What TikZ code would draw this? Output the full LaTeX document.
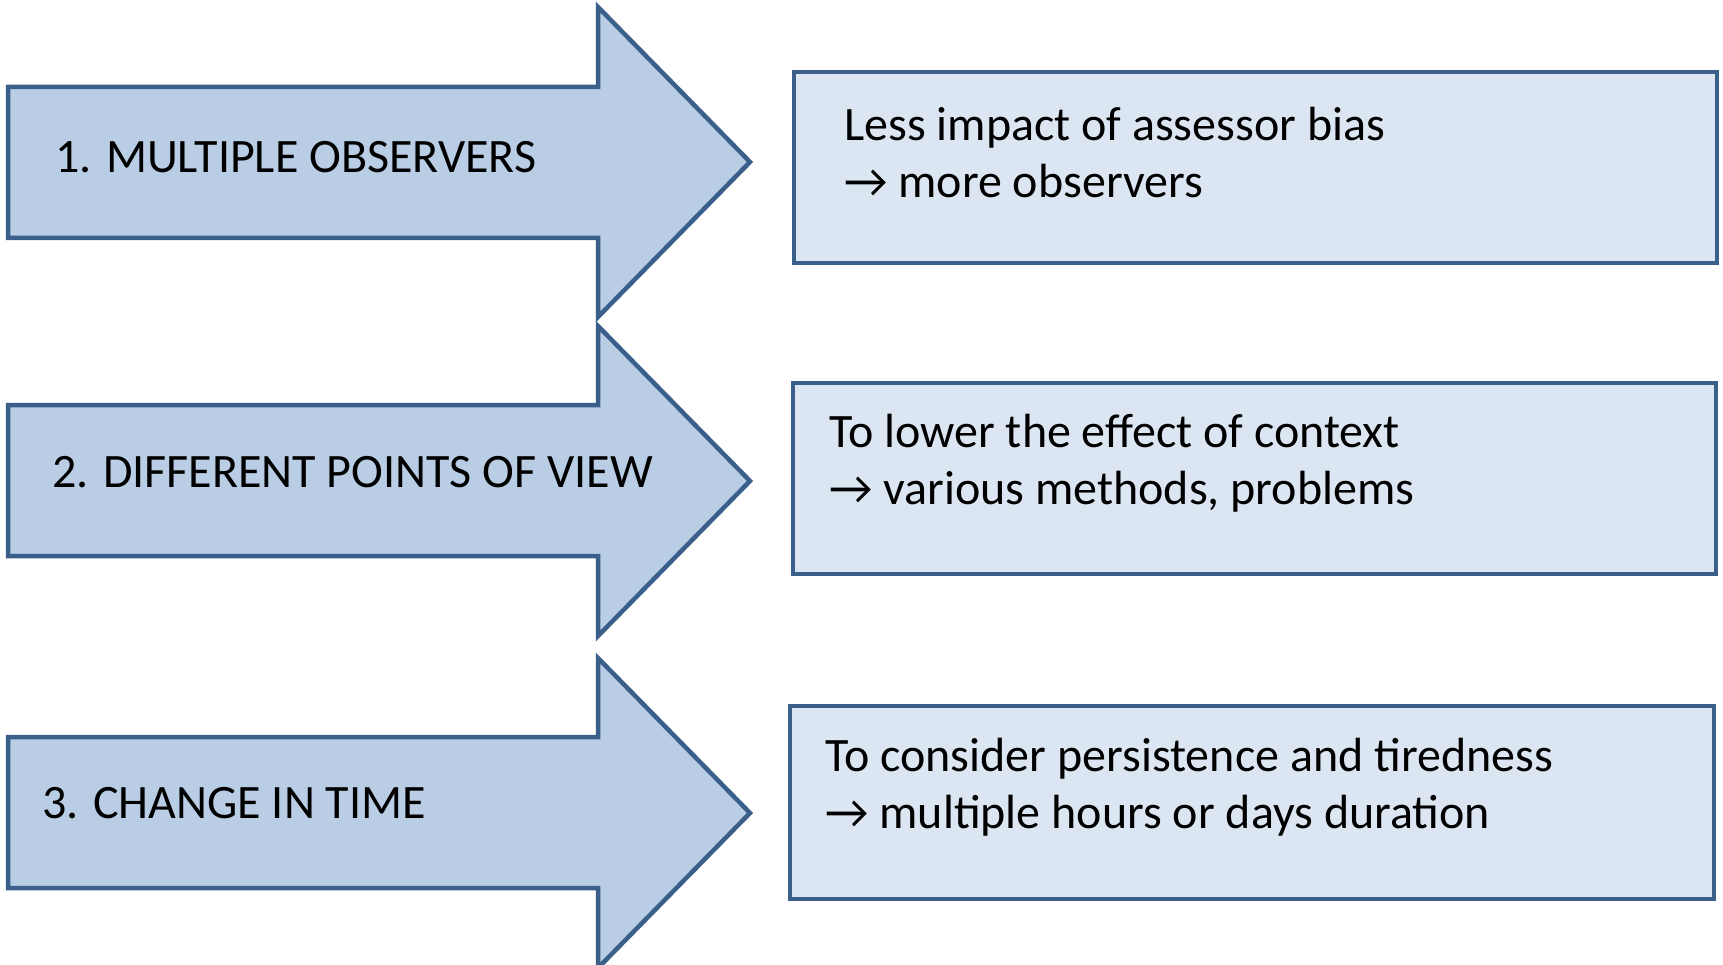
\documentclass[tikz,border=0pt]{standalone}
\usepackage{fontspec}
\setmainfont{Carlito}
\definecolor{arrowfill}{HTML}{B9CDE5}
\definecolor{boxfill}{HTML}{DCE6F2}
\definecolor{edge}{HTML}{3A5F8B}
\begin{document}
\begin{tikzpicture}[x=1pt,y=-1pt,
  shapeline/.style={draw=edge,line width=4.5pt,line join=miter},
  bigarrow/.style={shapeline,fill=arrowfill},
  infobox/.style={shapeline,fill=boxfill},
  arrowlabel/.style={anchor=base west,inner sep=0pt,font=\fontsize{48}{58}\selectfont},
  boxtext/.style={anchor=base west,inner sep=0pt,font=\fontsize{48}{58}\selectfont}]
\useasboundingbox (0,0) rectangle (1723,965);
% arrows
\draw[bigarrow] (8,87) -- (598,87) -- (598,7) -- (750,162) -- (598,317) -- (598,238) -- (8,238) -- cycle;
\draw[bigarrow] (8,405) -- (598,405) -- (598,326) -- (750,481) -- (598,636) -- (598,556) -- (8,556) -- cycle;
\draw[bigarrow] (8,737) -- (598,737) -- (598,658) -- (750,813) -- (598,968) -- (598,888) -- (8,888) -- cycle;
% boxes
\draw[infobox] (794,72) rectangle (1717,263);
\draw[infobox] (793,383) rectangle (1716,574);
\draw[infobox] (790,706) rectangle (1714,899);
% labels
\node[arrowlabel] (l1) at (55,173) {1. MULTIPLE OBSERVERS};
\node[arrowlabel] (l2) at (52,487) {2. DIFFERENT POINTS OF VIEW};
\node[arrowlabel] (l3) at (42,818) {3. CHANGE IN TIME};
% box texts
\node[boxtext] (t1a) at (844,141) {Less impact of assessor bias};
\node[boxtext] (t1b) at (844,198) {→ more observers};
\node[boxtext] (t2a) at (829,447) {To lower the effect of context};
\node[boxtext] (t2b) at (829,504) {→ various methods, problems};
\node[boxtext] (t3a) at (825,771) {To consider persistence and tiredness};
\node[boxtext] (t3b) at (825,828) {→ multiple hours or days duration};
\end{tikzpicture}
\end{document}
